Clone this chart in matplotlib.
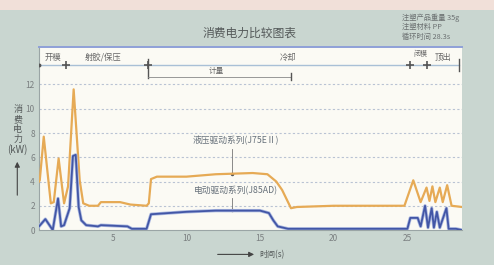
import matplotlib
matplotlib.use("Agg")
import matplotlib.pyplot as plt
from matplotlib.patches import Rectangle, FancyArrowPatch

plt.rcParams['font.family'] = ['Noto Sans CJK SC', 'DejaVu Sans']

# Hydraulic drive series (J75EII), kW
hyd_t = [0.0, 0.05, 0.32, 0.8, 1.0, 1.33, 1.7, 1.97, 2.35, 2.76, 3.0, 3.4, 4.0, 4.2, 5.5, 6.2, 7.3, 7.45, 7.6, 8.0, 10.0, 12.0, 14.5, 15.5, 16.1, 16.5, 17.1, 17.5, 20.0, 24.8, 25.4, 25.9,
         26.3, 26.5, 26.7, 26.9, 27.2, 27.4, 27.7, 28.0, 28.7]
hyd_p = [4.0, 4.1, 7.7, 2.2, 2.3, 5.9, 2.2, 3.6, 11.6, 4.1, 2.2, 2.0, 2.0, 2.3, 2.3, 2.1, 2.0, 2.2, 4.2, 4.4, 4.4, 4.6, 4.7, 4.6, 4.0, 3.3, 1.8, 1.9, 2.0, 2.0, 4.1, 2.3,
         3.5, 2.4, 3.6, 2.3, 3.5, 2.3, 3.7, 2.0, 1.9]

# Electric drive series (J85AD), kW
ele_t = [0.0, 0.43, 0.93, 1.29, 1.5, 1.7, 2.08, 2.3, 2.49, 2.69, 2.87, 3.2, 4.0, 4.2, 6.0, 6.3, 7.3, 7.6, 10.0, 12.0, 15.0, 15.6, 15.9, 16.2, 16.9, 25.0, 25.2, 25.7,
         25.9, 26.2, 26.4, 26.65, 26.8, 27.0, 27.2, 27.65, 27.8, 28.3, 28.7]
ele_p = [0.3, 0.9, 0.0, 2.6, 0.3, 0.4, 1.8, 6.1, 6.2, 1.9, 0.8, 0.4, 0.3, 0.4, 0.3, 0.1, 0.1, 1.3, 1.5, 1.6, 1.6, 1.4, 0.8, 0.3, 0.1, 0.1, 1.0, 1.0,
         0.3, 2.0, 0.2, 1.8, 0.2, 1.5, 0.2, 1.8, 0.1, 0.1, 0.0]

phase_names = ['开模', '射胶/保压', '冷却', '闭模', '顶出']
phase_bounds = [0.0, 1.8, 7.4, 25.2, 26.3, 28.5]
meter_span = [7.4, 17.1]
meter_name = '计量'

y_ticks = [0, 2, 4, 6, 8, 10, 12]
x_ticks = [5, 10, 15, 20, 25]

title = '消费电力比较图表'
info_lines = ['注塑产品重量 35g', '注塑材料 PP', '循环时间 28.3s']
hyd_label = '液压驱动系列(J75EⅡ)'
ele_label = '电动驱动系列(J85AD)'

bg = '#c9d6d0'
fig = plt.figure(figsize=(4.94, 2.65), dpi=100, facecolor=bg)
fig.patches.append(Rectangle((0, 0.962), 1, 0.038, transform=fig.transFigure,
                             facecolor='#f1e0d9', edgecolor='none', zorder=0))

ax = fig.add_axes([0.079, 0.132, 0.856, 0.691])
ax.set_facecolor('#fbfaf4')
ax.set_xlim(0, 28.7)
ax.set_ylim(0, 15.1)

for y in y_ticks[1:]:
    ax.axhline(y, color='#b9c3d3', lw=0.8, ls=(0, (2, 2)), zorder=1)

ax.plot(hyd_t, hyd_p, color='#e6aa55', lw=1.6, zorder=3, solid_joinstyle='round')
ax.plot(ele_t, ele_p, color='#aab8e0', lw=2.4, zorder=3, solid_joinstyle='round')
ax.plot(ele_t, ele_p, color='#4256a6', lw=1.3, zorder=4, solid_joinstyle='round')

ax.set_yticks(y_ticks)
ax.set_xticks(x_ticks)
ax.tick_params(axis='both', length=0, labelsize=6, colors='#7a7f80', pad=3)
ax.spines['right'].set_visible(False)
ax.spines['left'].set_color('#9aa5a5')
ax.spines['left'].set_linewidth(0.8)
ax.spines['bottom'].set_color('#9aa5a5')
ax.spines['bottom'].set_linewidth(0.8)
ax.spines['top'].set_color('#8fa0d8')
ax.spines['top'].set_linewidth(1.4)

# process timeline
yl = 13.6
ax.plot([phase_bounds[0], phase_bounds[-1]], [yl, yl], color='#a9c0d6', lw=1.0, zorder=2)
ax.plot([phase_bounds[0]], [yl], marker='o', ms=1.8, color='#555555', zorder=3)
for b in phase_bounds[1:-1]:
    ax.plot([b], [yl], marker='+', ms=6, mew=1.2, color='#555555', zorder=3)
ax.plot([phase_bounds[-1], phase_bounds[-1]], [yl - 0.5, yl + 0.5], color='#555555', lw=1.0)
ax.plot([meter_span[0], meter_span[0]], [12.5, 14.1], color='#555555', lw=1.0)
ax.plot([meter_span[0], meter_span[1]], [12.65, 12.65], color='#888888', lw=0.6)
ax.plot([meter_span[1], meter_span[1]], [12.35, 12.95], color='#555555', lw=1.0)
ax.text((meter_span[0] + meter_span[1]) / 2 - 0.2, 13.1, meter_name, fontsize=5.5,
        color='#666666', ha='center', va='center')
label_x = [0.4, 3.1, 16.3, 25.4, 26.85]
label_y = [14.25, 14.25, 14.25, 14.55, 14.25]
label_fs = [6, 6, 6, 5, 6]
for name, lx, ly, fs in zip(phase_names, label_x, label_y, label_fs):
    ax.text(lx, ly, name, fontsize=fs, color='#666666', ha='left', va='center')

# series labels
ax.text(13.35, 7.35, hyd_label, fontsize=6.3, color='#66707a', ha='center', va='center')
ax.plot([13.1, 13.1], [6.7, 4.65], color='#777777', lw=0.6)
ax.plot([13.1], [4.65], marker='o', ms=1.5, color='#555555')
ax.text(13.35, 3.25, ele_label, fontsize=6.3, color='#66707a', ha='center', va='center')
ax.plot([13.1, 13.1], [2.65, 1.65], color='#777777', lw=0.6)
ax.plot([13.1], [1.65], marker='o', ms=1.5, color='#555555')

# titles and side texts
fig.text(0.506, 0.875, title, fontsize=8.5, color='#555a5a', ha='center', va='center')
for i, line in enumerate(info_lines):
    fig.text(0.814, 0.932 - i * 0.035, line, fontsize=5.2, color='#6a6f70', ha='left', va='center')

ylab_chars = ['消', '费', '电', '力', '(kW)']
ylab_fs = [6.5, 6.5, 6.5, 6.5, 7]
for i, (ch, fs) in enumerate(zip(ylab_chars, ylab_fs)):
    fig.text(0.036, 0.585 - i * 0.037, ch, fontsize=fs, color='#555a5a', ha='center', va='center')
fig.patches.append(FancyArrowPatch((0.035, 0.253), (0.035, 0.40), transform=fig.transFigure,
                                   arrowstyle='-|>,head_length=3,head_width=1.5', color='#444444', lw=0.8))
fig.patches.append(FancyArrowPatch((0.435, 0.04), (0.52, 0.04), transform=fig.transFigure,
                                   arrowstyle='-|>,head_length=3,head_width=1.5', color='#444444', lw=0.8))
fig.text(0.524, 0.04, '时间(s)', fontsize=5.8, color='#555a5a', ha='left', va='center')

fig.savefig('out.png', dpi=100, facecolor=bg)
